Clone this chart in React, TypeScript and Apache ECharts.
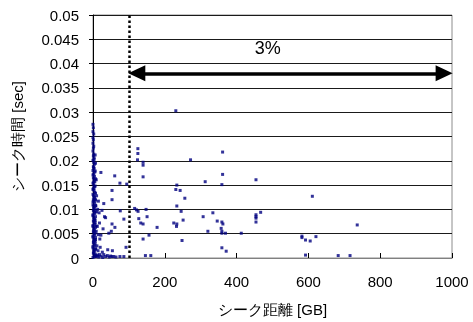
import React, { useEffect, useRef } from "react";
import * as echarts from "echarts";

// Seek distance [GB] vs seek time [sec]
const nearZeroColumn: [number, number][] = [
  [0, 0.0275], [1, 0.0268], [0, 0.026], [2, 0.0255], [0, 0.0248], [1, 0.0243],
  [0, 0.0236], [2, 0.023], [1, 0.0226], [0, 0.022], [2, 0.0214], [1, 0.021],
  [3, 0.0206], [0, 0.0201], [2, 0.0197], [4, 0.0193], [1, 0.0188], [3, 0.0184],
  [0, 0.018], [5, 0.0177], [2, 0.0173], [4, 0.0168], [1, 0.0165], [3, 0.0161],
  [5, 0.0157], [0, 0.0154], [2, 0.015], [4, 0.0146], [1, 0.0143], [3, 0.0139],
  [5, 0.0135], [0, 0.0131], [2, 0.0128], [4, 0.0124], [1, 0.012], [3, 0.0117],
  [5, 0.0113], [0, 0.0109], [2, 0.0106], [4, 0.0102], [1, 0.0098], [3, 0.0094],
  [5, 0.0091], [0, 0.0087], [2, 0.0083], [4, 0.008], [1, 0.0076], [3, 0.0072],
  [5, 0.0069], [0, 0.0065], [2, 0.0061], [4, 0.0058], [1, 0.0054], [3, 0.005],
  [5, 0.0047], [0, 0.0043], [2, 0.0039], [4, 0.0036], [1, 0.0032], [3, 0.0028],
  [5, 0.0025], [0, 0.0021], [2, 0.0017], [4, 0.0014], [1, 0.001], [3, 0.0006],
  [5, 0.0003], [0, 0.0001], [6, 0.0008], [7, 0.0119], [6, 0.0078], [7, 0.0042],
];

// second, offset pass through the dense band below 0.022 s
const nearZeroBand: [number, number][] = [
  [6, 0.0212], [3, 0.0203], [7, 0.0195], [2, 0.0186], [6, 0.0179], [0, 0.0171],
  [7, 0.0163], [2, 0.0156], [6, 0.0148], [0, 0.0141], [7, 0.0133], [3, 0.0126],
  [6, 0.0121], [0, 0.0115], [7, 0.0108], [2, 0.0101], [6, 0.0096], [0, 0.0089],
  [7, 0.0085], [3, 0.0078], [6, 0.0073], [0, 0.0067], [7, 0.0063], [2, 0.0056],
  [6, 0.0052], [0, 0.0045], [7, 0.0038], [2, 0.0034], [6, 0.003], [0, 0.0024],
  [7, 0.0019], [2, 0.0012], [6, 0.0005], [9, 0.0161], [10, 0.0128], [9, 0.0066],
];

const nearZeroScatter: [number, number][] = [
  [22, 0.0176], [60.5, 0.0169], [75, 0.0154], [94, 0.0152], [53, 0.0139],
  [53, 0.012], [15, 0.0117], [30, 0.0112], [76, 0.0097], [86, 0.008],
  [32, 0.0085], [35, 0.0083], [53, 0.007], [51, 0.0055], [44, 0.0051],
  [61, 0.0063], [92, 0.0022], [54, 0.0015], [41, 0.0017], [19, 0.0039],
  [22, 0.0047], [10, 0.0095], [17, 0.0093], [13, 0.01], [8, 0.0107],
  [25, 0.0098], [18, 0.0072], [12, 0.0065], [28, 0.006], [9, 0.0055],
  [15, 0.0048], [6, 0.0035], [11, 0.0025], [20, 0.0022], [14, 0.0015],
  [8, 0.0018], [26, 0.0012], [18, 0.0007], [12, 0.0004],
];

const bottomRow: [number, number][] = [
  [8, 0.0003], [12, 0.0006], [16, 0.0002], [22, 0.0004], [27, 0.0001],
  [30, 0.0007], [35, 0.0003], [40, 0.0005], [45, 0.0002], [49, 0.0004],
  [53, 0.0003], [58, 0.0003], [64, 0.0002], [75, 0.0003], [86, 0.0003],
];

const farScatter: [number, number][] = [
  [125, 0.0225], [125, 0.0215], [124, 0.0202], [139.5, 0.0197], [139.5, 0.0191],
  [139.5, 0.0167], [230.7, 0.0303], [361, 0.0218], [271.7, 0.0202], [361, 0.0172],
  [312.5, 0.0157], [359, 0.0151], [233.5, 0.015], [230.7, 0.0141], [242.7, 0.0139],
  [255.8, 0.0123], [233.5, 0.0107], [147.8, 0.01], [245.5, 0.0096], [333.9, 0.0093],
  [150.6, 0.0085], [306.8, 0.0085], [251, 0.0078], [346, 0.0076], [225, 0.0072],
  [233.5, 0.007], [359, 0.0074], [361.8, 0.007], [232.6, 0.0065], [178.5, 0.0063],
  [357, 0.0061], [320, 0.0055], [359, 0.0055], [359, 0.0051], [369, 0.0051],
  [413, 0.0051], [156, 0.0047], [248, 0.0036], [359, 0.0021], [371, 0.0014],
  [146, 0.0005], [161, 0.0005], [116, 0.0102], [121, 0.0099], [125.5, 0.0096],
  [127.5, 0.0081], [133, 0.0072], [139.5, 0.007], [139.5, 0.0039],
  [454, 0.0161], [454, 0.0089], [454, 0.0085], [454, 0.0082], [467, 0.0094],
  [454, 0.0074], [582, 0.0045], [582, 0.0042], [592, 0.0037], [605, 0.0035],
  [621, 0.0044], [592, 0.0006], [683, 0.0005], [716, 0.0005], [611, 0.0127],
  [736, 0.0068],
];

const thresholdGB = 100;
const arrowSpan: [number, number] = [122, 978];
const arrowLevel = 0.038;
const shareLabel = "3%";
const shareLabelPos: [number, number] = [487, 0.0432];

const xTicks = ["0", "200", "400", "600", "800", "1000"];
const yTicks = ["0", "0.005", "0.01", "0.015", "0.02", "0.025", "0.03", "0.035", "0.04", "0.045", "0.05"];

const FONT = "'Liberation Sans', Arial, sans-serif";

export default function App() {
  const ref = useRef<HTMLDivElement>(null);

  useEffect(() => {
    if (!ref.current) return;
    const chart = echarts.init(ref.current, undefined, { renderer: "svg" });
    const points = [
      ...nearZeroColumn,
      ...nearZeroBand,
      ...nearZeroScatter,
      ...bottomRow,
      ...farScatter,
    ];

    chart.setOption({
      animation: false,
      textStyle: { fontFamily: FONT },
      grid: {
        left: 93,
        right: 21,
        top: 15,
        bottom: 63,
        show: true,
        borderColor: "#8c8c8c",
        borderWidth: 1,
      },
      xAxis: {
        type: "value",
        min: 0,
        max: 1000,
        interval: 200,
        name: "シーク距離 [GB]",
        nameLocation: "middle",
        nameGap: 44,
        nameTextStyle: { fontSize: 15, color: "#000", fontFamily: FONT },
        axisLine: { lineStyle: { color: "#808080", width: 1 } },
        axisTick: { inside: true, length: 5, lineStyle: { color: "#000" } },
        axisLabel: {
          fontSize: 15,
          color: "#000",
          margin: 16,
          fontFamily: FONT,
          formatter: (v: number) => xTicks[Math.round(v / 200)] ?? "",
        },
        splitLine: { show: false },
      },
      yAxis: {
        type: "value",
        min: 0,
        max: 0.05,
        interval: 0.005,
        name: "シーク時間 [sec]",
        nameLocation: "middle",
        nameGap: 68,
        nameTextStyle: { fontSize: 15, color: "#000", fontFamily: FONT },
        axisLine: { show: true, lineStyle: { color: "#000", width: 1 } },
        axisTick: { show: true, length: 4, lineStyle: { color: "#000" } },
        axisLabel: {
          fontSize: 15,
          color: "#000",
          margin: 14,
          fontFamily: FONT,
          formatter: (v: number) => yTicks[Math.round(v / 0.005)] ?? "",
        },
        splitLine: { show: true, lineStyle: { color: "#1a1a1a", width: 1 } },
      },
      series: [
        {
          type: "scatter",
          data: points,
          symbol: "rect",
          symbolSize: 3,
          itemStyle: { color: "#000080" },
          markLine: {
            silent: true,
            symbol: "none",
            label: { show: false },
            lineStyle: { type: "dotted", color: "#000", width: 2.5 },
            data: [{ xAxis: thresholdGB }],
          },
          markPoint: {
            silent: true,
            symbol: "circle",
            symbolSize: 0,
            data: [
              {
                coord: shareLabelPos,
                label: {
                  show: true,
                  formatter: shareLabel,
                  fontSize: 18,
                  color: "#000",
                  fontFamily: FONT,
                },
              },
            ],
          },
        },
        {
          type: "scatter",
          data: [],
          markLine: {
            silent: true,
            symbol: ["triangle", "triangle"],
            symbolSize: [16, 17],
            label: { show: false },
            lineStyle: { type: "solid", color: "#000", width: 3.5 },
            itemStyle: { color: "#000" },
            data: [
              [
                { coord: [arrowSpan[0], arrowLevel] },
                { coord: [arrowSpan[1], arrowLevel] },
              ],
            ],
          },
        },
      ],
    });

    return () => chart.dispose();
  }, []);

  return (
    <div
      ref={ref}
      style={{ position: "fixed", left: 0, top: 0, width: 473, height: 322 }}
    />
  );
}
